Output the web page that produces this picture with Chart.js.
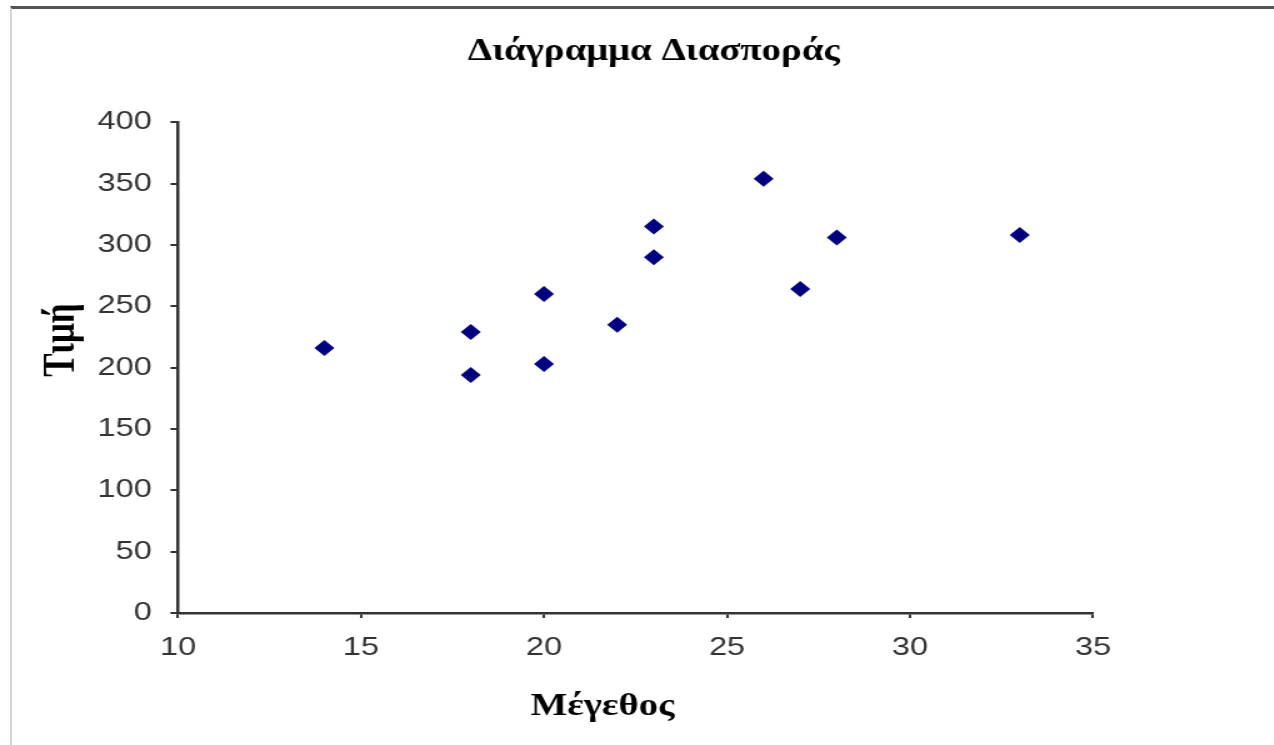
<!DOCTYPE html>
<html>
<head>
<meta charset="utf-8">
<script src="https://cdn.jsdelivr.net/npm/chart.js@4/dist/chart.umd.min.js"></script>
<style>
  html, body { margin: 0; padding: 0; background: #fff; overflow: hidden; }
  #frame { position: absolute; left: 10px; top: 6px; width: 1264px; height: 739px;
           border-top: 3px solid #555; border-left: 2px solid #d4d4d4; box-sizing: border-box;
           pointer-events: none; z-index: 2; }
  /* the source picture is stretched sideways, so the canvas is too */
  #wrap { position: absolute; left: 0; top: 0; transform: scaleX(1.25); transform-origin: 0 0; }
</style>
</head>
<body>
<div id="wrap"><canvas id="myChart" width="1019" height="745"></canvas></div>
<div id="frame"></div>
<script>
// Scatter data: size vs price
const sizes  = [14, 18, 18, 20, 20, 22, 23, 23, 26, 27, 28, 33];
const prices = [216, 229, 194, 260, 203, 235, 315, 290, 354, 264, 306, 308];
const xTicks = [10, 15, 20, 25, 30, 35];
const yTicks = [0, 50, 100, 150, 200, 250, 300, 350, 400];

const points = sizes.map((s, i) => ({ x: s, y: prices[i] }));

const axisColor = '#333';
const serif = 'Liberation Serif, Times New Roman, serif';
const tickFont = { family: 'Liberation Sans, Arial, sans-serif', size: 26 };

// axis titles sit a bit off-centre in the original, so draw them by hand
const axisTitles = {
    id: 'axisTitles',
    afterDraw(chart) {
        const ctx = chart.ctx;
        ctx.save();
        ctx.fillStyle = '#000';
        ctx.textAlign = 'center';
        ctx.textBaseline = 'middle';
        ctx.font = 'bold 31px ' + serif;
        ctx.fillText('Μέγεθος', 482, 707);
        ctx.translate(50, 340);
        ctx.rotate(-Math.PI / 2);
        ctx.font = 'bold 35px ' + serif;
        ctx.fillText('Τιμή', 0, 0);
        ctx.restore();
    }
};

const config = {
    type: 'scatter',
    data: {
        datasets: [{
            label: 'Τιμή',
            data: points,
            backgroundColor: '#000080',
            borderColor: '#000080',
            pointStyle: 'rectRot',
            pointRadius: 8,
            pointHoverRadius: 8,
            borderWidth: 0
        }]
    },
    options: {
        responsive: false,
        animation: false,
        devicePixelRatio: 1,
        layout: { padding: { left: 27, right: 0, top: 0, bottom: 0 } },
        plugins: {
            legend: { display: false },
            tooltip: { enabled: false },
            title: {
                display: true,
                text: 'Διάγραμμα Διασποράς',
                color: '#000',
                font: { family: serif, size: 31, weight: 'bold' },
                padding: { top: 33, bottom: 52 }
            }
        },
        scales: {
            x: {
                type: 'linear',
                min: xTicks[0],
                max: xTicks[xTicks.length - 1],
                afterBuildTicks: (axis) => { axis.ticks = xTicks.map(v => ({ value: v })); },
                afterFit: (axis) => { axis.height = 132; },
                grid: { drawOnChartArea: false, drawTicks: true, tickLength: 5, color: axisColor, lineWidth: 2 },
                border: { display: true, color: axisColor, width: 2.5 },
                ticks: { color: axisColor, font: tickFont, padding: 14, maxRotation: 0 }
            },
            y: {
                type: 'linear',
                min: yTicks[0],
                max: yTicks[yTicks.length - 1],
                afterBuildTicks: (axis) => { axis.ticks = yTicks.map(v => ({ value: v })); },
                afterFit: (axis) => { axis.width = 115.4; },
                grid: { drawOnChartArea: false, drawTicks: true, tickLength: 6, color: axisColor, lineWidth: 2 },
                border: { display: true, color: axisColor, width: 2.5 },
                ticks: { color: axisColor, font: tickFont, padding: 15 }
            },
            // empty box that keeps the white space right of the plot
            spacer: {
                type: 'linear',
                position: 'right',
                grid: { display: false },
                border: { display: false },
                ticks: { display: false },
                afterFit: (axis) => { axis.width = 144.6; }
            }
        }
    },
    plugins: [axisTitles]
};

const myChart = new Chart(document.getElementById('myChart'), config);
</script>
</body>
</html>
